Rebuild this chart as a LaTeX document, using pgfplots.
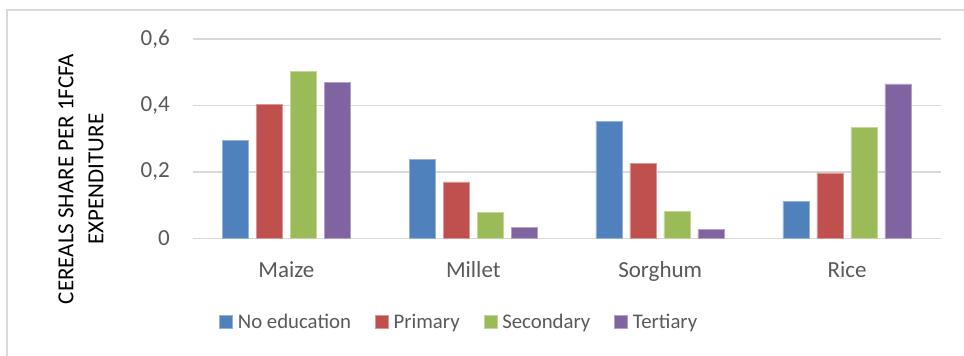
\documentclass[border=0pt]{standalone}
\usepackage{pgfplots}
\pgfplotsset{compat=1.18}
\usepackage{fontspec}
\setmainfont{Carlito}
\definecolor{cblue}{RGB}{79,129,189}
\definecolor{cred}{RGB}{192,80,77}
\definecolor{cgreen}{RGB}{155,187,89}
\definecolor{cpurple}{RGB}{128,100,162}
\definecolor{gridgray}{RGB}{217,217,217}
\definecolor{txtgray}{RGB}{89,89,89}
\begin{document}
\begin{tikzpicture}
\useasboundingbox (-193pt,-117.7pt) rectangle (771pt,238.3pt);
\draw[gridgray, line width=1.6pt] (-186pt,-119pt) -- (-186pt,228.3pt) -- (772pt,228.3pt);
\begin{axis}[
  at={(0pt,0pt)}, anchor=south west,
  scale only axis, width=747.5pt, height=199.3pt,
  xmin=-0.5, xmax=3.5, ymin=0, ymax=0.6,
  ybar=7.6pt, bar width=26.4pt,
  xtick={0,1,2,3}, xticklabels={Maize,Millet,Sorghum,Rice},
  ytick={0,0.2,0.4,0.6}, yticklabels={0,{0,2},{0,4},{0,6}},
  major tick length=0pt,
  axis line style={draw=none},
  ymajorgrids, grid style={gridgray, line width=1.6pt},
  xticklabel style={anchor=base, inner sep=0pt, yshift=-39pt, text=txtgray, font=\fontsize{23}{23}\selectfont},
  yticklabel style={anchor=east, inner sep=0pt, xshift=-23pt, text=txtgray, font=\fontsize{23}{23}\selectfont},
  legend columns=4,
  legend style={draw=none, fill=none, at={(0.0348,-0.42)}, anchor=west, inner xsep=0pt, inner ysep=0pt,
    nodes={inner sep=0pt, text=txtgray, font=\fontsize{20.8}{20.8}\selectfont},
    /tikz/every odd column/.append style={column sep=5pt},
    /tikz/every even column/.append style={column sep=24pt}},
  legend image code/.code={\fill[#1] (0pt,-6.5pt) rectangle (13pt,6.5pt);},
]
\addplot[fill=cblue, draw=cblue!60!white, line width=0.6pt] coordinates {(0,0.294) (1,0.238) (2,0.353) (3,0.111)};
\addplot[fill=cred, draw=cred!60!white, line width=0.6pt] coordinates {(0,0.403) (1,0.170) (2,0.226) (3,0.197)};
\addplot[fill=cgreen, draw=cgreen!60!white, line width=0.6pt] coordinates {(0,0.503) (1,0.079) (2,0.080) (3,0.333)};
\addplot[fill=cpurple, draw=cpurple!60!white, line width=0.6pt] coordinates {(0,0.470) (1,0.034) (2,0.027) (3,0.465)};
\legend{No education, Primary, Secondary, Tertiary}
\end{axis}
\node[rotate=90, align=center, font=\fontsize{23}{30}\selectfont] at (-112pt,59.3pt) {CEREALS SHARE PER 1FCFA\\EXPENDITURE};
\end{tikzpicture}
\end{document}
